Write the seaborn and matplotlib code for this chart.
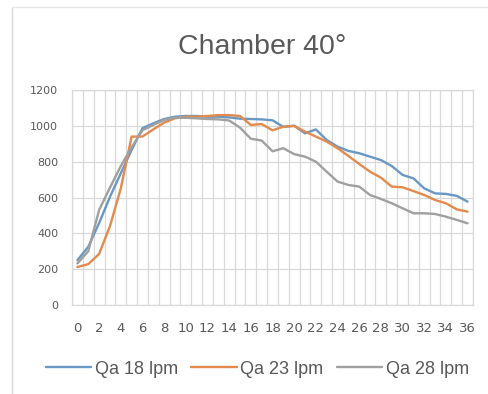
import numpy as np
import pandas as pd
import seaborn as sns
import matplotlib
matplotlib.use("Agg")
import matplotlib.pyplot as plt
from matplotlib.lines import Line2D

# ---- data ----
x_vals = list(range(0, 37))
qa18 = [250, 325, 457, 603, 735, 865, 987, 1014, 1038, 1051, 1055, 1055, 1051, 1051, 1047, 1040,
        1038, 1036, 1031, 994, 1001, 958, 980, 921, 884, 860, 847, 828, 809, 776, 726, 707,
        651, 623, 620, 609, 577]
qa23 = [212, 228, 285, 440, 650, 940, 940, 980, 1018, 1042, 1051, 1051, 1055, 1060, 1060, 1055,
        1005, 1010, 975, 995, 999, 968, 940, 912, 875, 832, 787, 744, 711, 661, 657, 636,
        614, 586, 568, 534, 521]
qa28 = [232, 300, 530, 655, 775, 880, 975, 1005, 1033, 1045, 1045, 1042, 1038, 1036, 1030, 990,
        928, 918, 858, 875, 842, 828, 800, 744, 689, 670, 661, 614, 592, 568, 540, 512,
        512, 508, 493, 475, 456]
series_names = ["Qa 18 lpm", "Qa 23 lpm", "Qa 28 lpm"]
y_ticks = [0, 200, 400, 600, 800, 1000, 1200]
x_tick_labels = [str(v) for v in range(0, 37, 2)]
title = "Chamber 40°"

colors = {"Qa 18 lpm": "#6A98C4", "Qa 23 lpm": "#E38A4E", "Qa 28 lpm": "#A0A0A0"}

df = pd.concat([
    pd.DataFrame({"x": x_vals, "y": vals, "series": name})
    for name, vals in zip(series_names, [qa18, qa23, qa28])
], ignore_index=True)

sns.set_style("white")
plt.rcParams["font.family"] = ["DejaVu Sans"]

fig = plt.figure(figsize=(4.89, 3.94), dpi=100)
ax = fig.add_axes([72 / 489, 1 - 305 / 394, (473 - 72) / 489, (305 - 90) / 394])

sns.lineplot(data=df, x="x", y="y", hue="series", palette=colors, linewidth=1.7,
             ax=ax, legend=False)

ax.set_xlim(-0.5, 36.5)
ax.set_ylim(0, 1200)
ax.set_yticks(y_ticks)
ax.set_yticklabels([str(v) for v in y_ticks], fontsize=8, color="#595959")
ax.set_xticks(list(range(0, 37, 2)))
ax.set_xticklabels(x_tick_labels, fontsize=9.5, color="#595959")
ax.set_xticks([v - 0.5 for v in range(0, 38)], minor=True)
ax.tick_params(axis="both", which="both", length=0)
ax.tick_params(axis="y", pad=10)
ax.tick_params(axis="x", pad=12)
ax.set_xlabel("")
ax.set_ylabel("")
ax.grid(True, axis="y", which="major", color="#D9D9D9", linewidth=0.9)
ax.grid(True, axis="x", which="minor", color="#D9D9D9", linewidth=0.9)
ax.grid(False, axis="x", which="major")
ax.set_axisbelow(True)
for s in ax.spines.values():
    s.set_color("#D9D9D9")
    s.set_linewidth(0.9)

fig.text(262 / 489, 1 - 54 / 394, title, fontsize=20.5, color="#595959",
         ha="center", va="baseline", family=["Liberation Sans", "DejaVu Sans"])

handles = [Line2D([0], [0], color=colors[n], lw=1.7) for n in series_names]
fig.legend(handles, series_names, loc="center", bbox_to_anchor=(257.5 / 489, 1 - 369 / 394),
           ncol=3, frameon=False, handlelength=2.5, handletextpad=0.22, columnspacing=0.72,
           prop={"family": ["Liberation Sans", "DejaVu Sans"], "size": 13},
           labelcolor="#595959")

# chart-area border (cropped at right and bottom)
fig.add_artist(Line2D([12 / 489, 12 / 489], [0, 1 - 7 / 394], transform=fig.transFigure,
                      color="#D9D9D9", lw=1))
fig.add_artist(Line2D([12 / 489, 1], [1 - 7 / 394, 1 - 7 / 394], transform=fig.transFigure,
                      color="#E6E6E6", lw=1))

fig.savefig("out.png", dpi=100)
